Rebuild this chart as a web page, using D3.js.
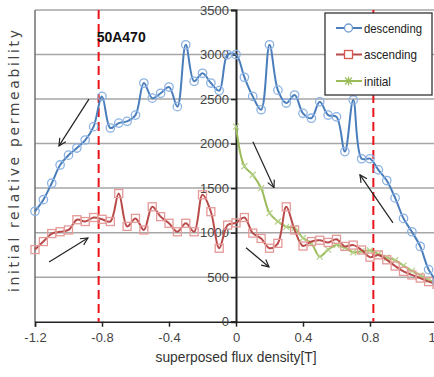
<!DOCTYPE html>
<html><head><meta charset="utf-8">
<script src="https://cdn.jsdelivr.net/npm/d3@7"></script>
<style>
html,body{margin:0;padding:0;background:#fff;overflow:hidden;}
svg{display:block;}
</style></head>
<body><svg id="chart" width="434" height="377"></svg>
<script>
const xValues = [-1.2,-1.15,-1.1,-1.05,-1.0,-0.95,-0.9,-0.85,-0.8,-0.75,-0.7,-0.65,-0.6,-0.55,-0.5,-0.45,-0.4,-0.35,-0.3,-0.25,-0.2,-0.15,-0.1,-0.05,0,0.05,0.1,0.15,0.2,0.25,0.3,0.35,0.4,0.45,0.5,0.55,0.6,0.65,0.7,0.75,0.8,0.85,0.9,0.95,1.0,1.05,1.1,1.15,1.2];
const descending = [1240,1370,1555,1760,1870,1950,2040,2190,2530,2175,2230,2250,2320,2680,2510,2565,2635,2415,3110,2700,2790,2680,2595,3000,3000,2745,2530,2380,3110,2600,2455,2545,2340,2285,2470,2320,2300,1910,2490,1830,1830,1705,1585,1390,1160,1010,845,585,450];
const ascending = [810,900,990,1010,1030,1145,1125,1170,1150,1125,1440,1070,1160,1030,1290,1180,1105,1010,1105,1010,1425,1235,825,1085,1110,1170,995,935,825,880,1290,1030,850,900,915,890,925,845,860,805,725,750,695,625,565,525,490,450,420];
const initialX = [0,0.05,0.1,0.15,0.2,0.25,0.3,0.35,0.4,0.45,0.5,0.55,0.6,0.65,0.7,0.75,0.8,0.85,0.9,0.95,1.0,1.05,1.1,1.15,1.2];
const initial = [2190,1745,1650,1500,1220,1125,1065,1050,940,880,730,810,860,830,780,790,800,760,720,690,630,570,520,470,430];
const xTicks = [-1.2,-0.8,-0.4,0,0.4,0.8,1.2];
const xTickLabels = ["-1.2","-0.8","-0.4","0","0.4","0.8","1.2"];
const yTicks = [0,500,1000,1500,2000,2500,3000,3500];
const markerLines = [-0.82, 0.82];
const seriesNames = ["descending","ascending","initial"];
const title = "50A470";
const xTitle = "superposed flux density[T]";
const yTitle = "initial relative permeability";
// arrows in data units: [x1,y1,x2,y2]
const arrows = [
  [-0.878,2500,-1.057,1975],
  [-1.116,670,-0.884,940],
  [0.101,2020,0.227,1505],
  [0.06,830,0.197,615],
  [0.937,1110,0.74,1648]
];

const svg = d3.select("#chart");
const x = d3.scaleLinear().domain([-1.2,1.2]).range([35,437]);
const y = d3.scaleLinear().domain([0,3500]).range([321.7,10]);
const font = "'Liberation Sans','Arial',sans-serif";

svg.append("defs").append("marker")
  .attr("id","arr").attr("viewBox","0 0 10 10").attr("refX",9).attr("refY",5)
  .attr("markerWidth",9).attr("markerHeight",9).attr("orient","auto")
  .attr("markerUnits","userSpaceOnUse")
  .append("path").attr("d","M1,1 L9,5 L1,9").attr("fill","none").attr("stroke","#222").attr("stroke-width",1.3);

// gridlines
svg.append("g").selectAll("line").data(yTicks.filter(d=>d>0)).join("line")
  .attr("x1",x(-1.2)).attr("x2",434).attr("y1",d=>y(d)).attr("y2",d=>y(d))
  .attr("stroke","#a6a6a6").attr("stroke-width",1.5);
// left border
svg.append("line").attr("x1",x(-1.2)).attr("x2",x(-1.2)).attr("y1",y(3500)).attr("y2",y(0))
  .attr("stroke","#707070").attr("stroke-width",1.5);

// x axis
const xAxis = d3.axisBottom(x).tickValues(xTicks).tickSize(5).tickFormat((d,i)=>xTickLabels[i]);
const gx = svg.append("g").attr("transform",`translate(0,${y(0)})`).call(xAxis);
gx.select(".domain").attr("stroke","#222").attr("stroke-width",1.5);
gx.selectAll(".tick line").attr("stroke","#222").attr("stroke-width",1.5);
gx.selectAll(".tick text").attr("font-family",font).attr("font-size",13).attr("fill","#444").attr("dy","0.95em");

// y axis at x=0
const yAxis = d3.axisLeft(y).tickValues(yTicks).tickSize(5).tickPadding(2).tickFormat(d3.format("d"));
const gy = svg.append("g").attr("transform",`translate(${x(0)},0)`).call(yAxis);
gy.select(".domain").attr("stroke","#222").attr("stroke-width",2);
gy.selectAll(".tick line").attr("stroke","#222").attr("stroke-width",1.5);
gy.selectAll(".tick text").attr("font-family",font).attr("font-size",13).attr("fill","#444");

// red dashed lines
svg.append("g").selectAll("line").data(markerLines).join("line")
  .attr("x1",d=>x(d)).attr("x2",d=>x(d)).attr("y1",y(3500)).attr("y2",y(0))
  .attr("stroke","#e8141a").attr("stroke-width",2).attr("stroke-dasharray","9,5");

const line = d3.line().curve(d3.curveCatmullRom.alpha(0.5));
const descPts = xValues.map((v,i)=>[x(v),y(descending[i])]);
const ascPts = xValues.map((v,i)=>[x(v),y(ascending[i])]);
const iniPts = initialX.map((v,i)=>[x(v),y(initial[i])]);

// initial
svg.append("path").attr("d",line(iniPts)).attr("fill","none").attr("stroke","#9bbb59").attr("stroke-width",2);
svg.append("g").selectAll("path").data(iniPts).join("path")
  .attr("d",d=>`M${d[0]-3},${d[1]-3}L${d[0]+3},${d[1]+3}M${d[0]-3},${d[1]+3}L${d[0]+3},${d[1]-3}`)
  .attr("stroke","#b5d08a").attr("stroke-width",1.2).attr("fill","none");

// ascending
svg.append("path").attr("d",line(ascPts)).attr("fill","none").attr("stroke","#b94a4a").attr("stroke-width",2);
svg.append("g").selectAll("rect").data(ascPts).join("rect")
  .attr("x",d=>d[0]-4).attr("y",d=>d[1]-4).attr("width",8).attr("height",8)
  .attr("fill","none").attr("stroke","#e49a98").attr("stroke-width",1.3);

// descending
svg.append("path").attr("d",line(descPts)).attr("fill","none").attr("stroke","#4a7ebb").attr("stroke-width",2);
svg.append("g").selectAll("circle").data(descPts).join("circle")
  .attr("cx",d=>d[0]).attr("cy",d=>d[1]).attr("r",4.2)
  .attr("fill","none").attr("stroke","#8db3e2").attr("stroke-width",1.3);

// arrows
svg.append("g").selectAll("line").data(arrows).join("line")
  .attr("x1",d=>x(d[0])).attr("y1",d=>y(d[1])).attr("x2",d=>x(d[2])).attr("y2",d=>y(d[3]))
  .attr("stroke","#222").attr("stroke-width",1.2).attr("marker-end","url(#arr)");

// title label
svg.append("text").attr("x",x(-0.82)-2).attr("y",42).text(title)
  .attr("font-family",font).attr("font-weight","bold").attr("font-size",14).attr("fill","#111");

// legend
const lg = svg.append("g");
lg.append("rect").attr("x",325).attr("y",13).attr("width",107).attr("height",82)
  .attr("fill","#fff").attr("stroke","#333").attr("stroke-width",1.3);
const legColors = ["#4a7ebb","#b94a4a","#9bbb59"];
const legMark = ["#6f9bd1","#d9534f","#9bbb59"];
const legWidths = [58,53,27];
seriesNames.forEach((n,i)=>{
  const yy = 28 + i*26.5;
  lg.append("line").attr("x1",336).attr("x2",362).attr("y1",yy).attr("y2",yy).attr("stroke",legColors[i]).attr("stroke-width",2);
  if(i===0) lg.append("circle").attr("cx",348.5).attr("cy",yy).attr("r",4).attr("fill","#fff").attr("stroke",legMark[i]).attr("stroke-width",1.3);
  if(i===1) lg.append("rect").attr("x",344.5).attr("y",yy-4).attr("width",8).attr("height",8).attr("fill","#fff").attr("stroke",legMark[i]).attr("stroke-width",1.3);
  if(i===2) lg.append("path").attr("d",`M345,${yy-3.5}L352,${yy+3.5}M345,${yy+3.5}L352,${yy-3.5}M348.5,${yy-4.5}L348.5,${yy+4.5}`).attr("stroke",legMark[i]).attr("stroke-width",1.2);
  lg.append("text").attr("x",364).attr("y",yy).attr("dy","0.35em").text(n)
    .attr("font-family",font).attr("font-size",13).attr("fill","#222")
    .attr("textLength",legWidths[i]).attr("lengthAdjust","spacingAndGlyphs");
});

// axis titles
svg.append("text").attr("x",x(0)).attr("y",362).attr("text-anchor","middle").text(xTitle)
  .attr("font-family",font).attr("font-size",15).attr("fill","#333")
  .attr("textLength",161).attr("lengthAdjust","spacingAndGlyphs");
svg.append("text").attr("transform","translate(19,161) rotate(-90)").attr("text-anchor","middle").text(yTitle)
  .attr("font-family","'DejaVu Sans',sans-serif").attr("font-size",14).attr("fill","#444")
  .attr("textLength",262).attr("lengthAdjust","spacing");
</script></body></html>
